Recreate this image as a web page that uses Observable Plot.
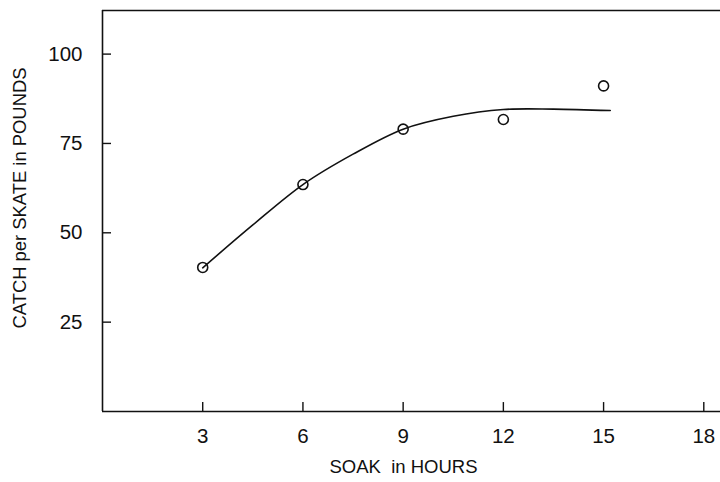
<!DOCTYPE html>
<html>
<head>
<meta charset="utf-8">
<script src="https://cdn.jsdelivr.net/npm/d3@7"></script>
<script src="https://cdn.jsdelivr.net/npm/@observablehq/plot@0.6"></script>
<style>
  html, body { margin: 0; padding: 0; background: #fff; }
  #chart svg { display: block; }
</style>
</head>
<body>
<div id="chart"></div>
<script>
// Observed points
const soakHours = [3, 6, 9, 12, 15];
const catchLbs = [40.3, 63.5, 79.0, 81.7, 91.1];

// Fitted curve
const curveHours = [3, 4.5, 6, 7.5, 9, 10.5, 12, 13.5, 15.2];
const curveLbs = [40.2, 52.2, 63.5, 72.0, 79.0, 82.6, 84.5, 84.6, 84.2];

// Axis ticks
const xTicks = [3, 6, 9, 12, 15, 18];
const yTicks = [25, 50, 75, 100];

const xLabel = "SOAK  in HOURS";
const yLabel = "CATCH per SKATE in POUNDS";

const points = soakHours.map((h, i) => ({h, c: catchLbs[i]}));
const curve = curveHours.map((h, i) => ({h, c: curveLbs[i]}));

const xMax = 18.5, yMax = 112.2;
const ink = "#111";

const chart = Plot.plot({
  width: 720,
  height: 482,
  marginLeft: 102,
  marginRight: 0,
  marginTop: 10,
  marginBottom: 71,
  style: {fontFamily: "'Liberation Sans', Arial, sans-serif", color: ink, background: "#fff"},
  x: {domain: [0, xMax]},
  y: {domain: [0, yMax]},
  marks: [
    Plot.ruleX([0], {stroke: ink, strokeWidth: 1.6}),
    Plot.ruleY([0, yMax], {stroke: ink, strokeWidth: 1.6}),
    Plot.ruleY(yTicks, {x1: 0, x2: 0.27, stroke: ink, strokeWidth: 1.4}),
    Plot.ruleX(xTicks, {y1: 0, y2: 2.5, stroke: ink, strokeWidth: 1.4}),
    Plot.axisX(xTicks, {tickSize: 0, tickPadding: 17, fontSize: 20.5, label: null, fill: ink}),
    Plot.axisY(yTicks, {tickSize: 0, tickPadding: 20, fontSize: 20.5, label: null, fill: ink}),
    Plot.line(curve, {x: "h", y: "c", curve: "catmull-rom", stroke: ink, strokeWidth: 1.6}),
    Plot.dot(points, {x: "h", y: "c", r: 5, stroke: ink, strokeWidth: 1.6, fill: "none"}),
    Plot.text([xLabel], {frameAnchor: "bottom", dy: 61, dx: -8, fontSize: 18.5, fill: ink, textAnchor: "middle", text: d => d}),
    Plot.text([yLabel], {frameAnchor: "left", dx: -82, dy: -13, rotate: -90, fontSize: 18.4, fill: ink, textAnchor: "middle", text: d => d})
  ]
});
document.getElementById("chart").appendChild(chart);
</script>
</body>
</html>
